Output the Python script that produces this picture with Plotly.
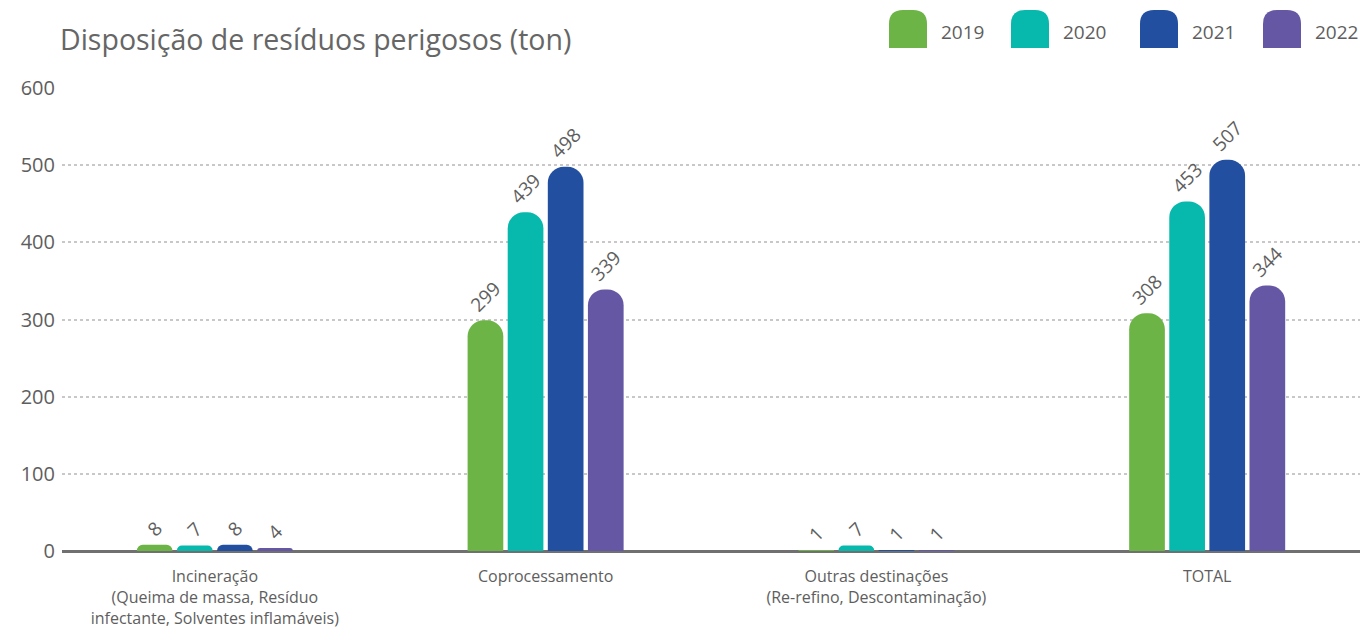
import plotly.graph_objects as go

# dados do gráfico
categorias = [
    "Incineração<br>(Queima de massa, Resíduo<br>infectante, Solventes inflamáveis)",
    "Coprocessamento",
    "Outras destinações<br>(Re-refino, Descontaminação)",
    "TOTAL",
]
anos = ["2019", "2020", "2021", "2022"]
valores_2019 = [8, 299, 1, 308]
valores_2020 = [7, 439, 7, 453]
valores_2021 = [8, 498, 1, 507]
valores_2022 = [4, 339, 1, 344]
ticks_y = [0, 100, 200, 300, 400, 500, 600]

cores = ["#6cb446", "#06b9ac", "#234fa0", "#6557a3"]
series = [valores_2019, valores_2020, valores_2021, valores_2022]

FONTE = "'Open Sans', 'Noto Sans', sans-serif"
CINZA = "#5e5e5e"

fig = go.Figure()
for ano, vals, cor in zip(anos, series, cores):
    fig.add_trace(go.Bar(
        x=categorias, y=vals, name=ano,
        marker=dict(color=cor, line=dict(width=0)),
        text=[str(v) for v in vals],
        textposition="outside",
        textangle=-45,
        textfont=dict(size=19, color=CINZA, family=FONTE),
        cliponaxis=False,
        showlegend=False,
    ))

# dimensões da área de plotagem (px) para posicionar a legenda manual
W, H = 1366, 630
L, R, T, B = 62, 6, 88, 79
pw, ph = W - L - R, H - T - B

def px_x(x):
    return (x - L) / pw

def px_y(y):
    return (H - B - y) / ph

# legenda desenhada com formas de topo arredondado
leg_x = [889, 1011, 1140, 1263]
shapes = []
annotations = []
for ano, cor, x0p in zip(anos, cores, leg_x):
    x1p = x0p + 38
    y_top, y_bot = 10, 48
    r = 14
    x0, x1 = px_x(x0p), px_x(x1p)
    y0, y1 = px_y(y_bot), px_y(y_top)
    rx, ry = r / pw, r / ph
    path = (f"M {x0},{y0} L {x0},{y1 - ry} Q {x0},{y1} {x0 + rx},{y1} "
            f"L {x1 - rx},{y1} Q {x1},{y1} {x1},{y1 - ry} L {x1},{y0} Z")
    shapes.append(dict(type="path", path=path, xref="paper", yref="paper",
                       fillcolor=cor, line=dict(width=0)))
    annotations.append(dict(text=ano, xref="paper", yref="paper",
                            x=px_x(x1p + 12), y=px_y(32), xanchor="left", yanchor="middle",
                            showarrow=False, font=dict(size=19, color=CINZA, family=FONTE)))

fig.update_layout(
    width=W, height=H,
    margin=dict(l=L, r=R, t=T, b=B),
    paper_bgcolor="white", plot_bgcolor="white",
    title=dict(text="Disposição de resíduos perigosos (ton)", x=60 / W, xref="container",
               xanchor="left", y=1 - 40 / H, yanchor="middle",
               font=dict(size=28.5, color="#666666", family=FONTE)),
    barmode="group", bargap=0.515, bargroupgap=0.11,
    barcornerradius=16,
    shapes=shapes, annotations=annotations,
    font=dict(family=FONTE, color=CINZA),
)
fig.update_xaxes(range=[-0.462, 3.462], showgrid=False, showline=False, ticks="",
                 automargin=False, ticklabelstandoff=14,
                 tickfont=dict(size=16, color=CINZA, family=FONTE))
fig.update_yaxes(range=[0, 600], tickvals=ticks_y, showgrid=True, gridcolor="#c8c8c8",
                 griddash="dot", gridwidth=1.5, zeroline=True, zerolinecolor="#707070",
                 zerolinewidth=2.5, showline=False, ticks="",
                 automargin=False, ticklabelstandoff=6,
                 tickfont=dict(size=20, color=CINZA, family=FONTE))

# remove a margem padrão do body para o gráfico ocupar a janela inteira
fig.write_html("out.html", config={"displayModeBar": False},
               post_script="document.body.style.margin='0';document.body.style.overflow='hidden';")
